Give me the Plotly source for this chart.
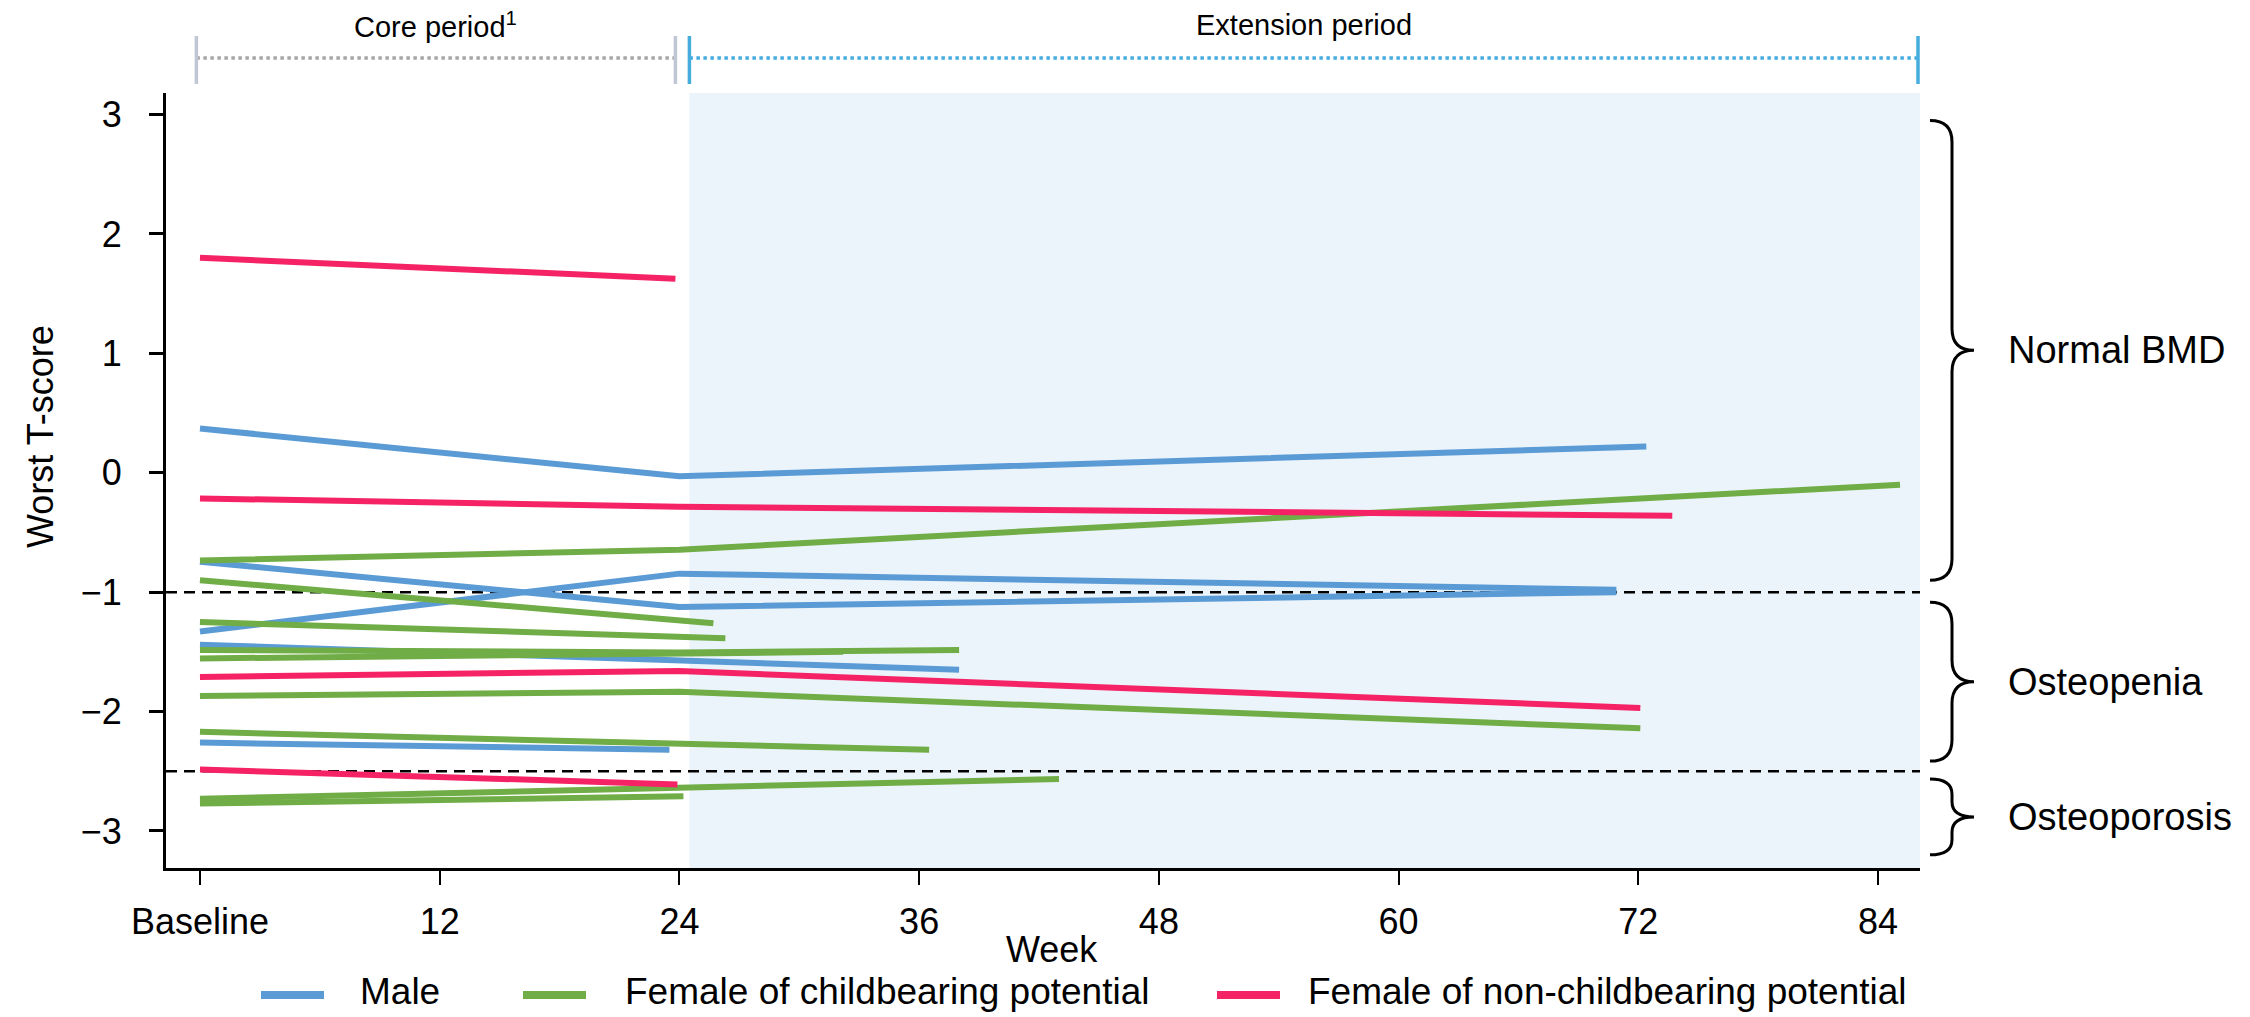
import plotly.graph_objects as go

# ---------------- data ----------------
week_ticks = [0, 12, 24, 36, 48, 60, 72, 84]
week_tick_labels = ["Baseline", "12", "24", "36", "48", "60", "72", "84"]
t_ticks = [-3, -2, -1, 0, 1, 2, 3]

series_names = ["Male", "Female of childbearing potential", "Female of non-childbearing potential"]
series_colors = ["#5B9BD5", "#70AD47", "#F52366"]

male_weeks = [[0, 24, 72.4], [0, 24, 70.9], [0, 24, 70.9], [0, 24, 38], [0, 23.5]]
male_scores = [[0.37, -0.03, 0.22], [-0.745, -1.125, -1.0], [-1.33, -0.845, -0.98],
               [-1.44, -1.58, -1.65], [-2.26, -2.32]]

fcbp_weeks = [[0, 24, 85.1], [0, 25.7], [0, 26.3], [0, 24, 38], [0, 32.2],
              [0, 24, 72.1], [0, 36.5], [0, 43], [0, 24.2]]
fcbp_scores = [[-0.735, -0.645, -0.10], [-0.90, -1.26], [-1.25, -1.385],
               [-1.485, -1.505, -1.485], [-1.555, -1.50], [-1.87, -1.835, -2.14],
               [-2.17, -2.32], [-2.73, -2.565], [-2.77, -2.71]]

fncbp_weeks = [[0, 23.8], [0, 24, 73.7], [0, 24, 72.1], [0, 23.9]]
fncbp_scores = [[1.80, 1.625], [-0.215, -0.285, -0.36], [-1.71, -1.66, -1.97],
                [-2.485, -2.61]]

thresholds = [-1, -2.5]
categories = ["Normal BMD", "Osteopenia", "Osteoporosis"]
category_spans = [(2.95, -0.9), (-1.085, -2.415), (-2.565, -3.2)]

periods = ["Core period<sup>1</sup>", "Extension period"]
period_spans = [(-0.18, 23.8), (24.5, 86.0)]

# ---------------- layout geometry ----------------
W, H = 2250, 1017
PL, PR, PT, PB = 166, 1920, 93, 868
x_range = [-1.7, 86.1]
y_range = [-3.31, 3.18]
FONT = "Liberation Sans, Arial, Helvetica, sans-serif"


def px_x(px):
    return (px - PL) / (PR - PL)


def px_y(py):
    return (PB - py) / (PB - PT)


fig = go.Figure()

groups = [(male_weeks, male_scores), (fcbp_weeks, fcbp_scores), (fncbp_weeks, fncbp_scores)]
for (wk_list, sc_list), name, color in zip(groups, series_names, series_colors):
    for wk, sc in zip(wk_list, sc_list):
        fig.add_trace(go.Scatter(x=wk, y=sc, mode="lines", name=name, legendgroup=name,
                                 showlegend=False, line=dict(color=color, width=6),
                                 hoverinfo="x+y+name"))

shapes = []
annotations = []

# shaded extension period
shapes.append(dict(type="rect", xref="x", yref="paper", x0=period_spans[1][0], x1=x_range[1],
                   y0=0, y1=1, fillcolor="#EBF4FB", line=dict(width=0), layer="below"))

# threshold dashed lines
for t in thresholds:
    shapes.append(dict(type="line", xref="paper", yref="y", x0=0, x1=1, y0=t, y1=t,
                       line=dict(color="black", width=2.5, dash="11px,7px"), layer="below"))

# period bars on top
bar_y = px_y(58)
cap_y0, cap_y1 = px_y(84), px_y(36)
period_line_colors = ["#A6A6A6", "#45ADDE"]
period_cap_colors = ["#BFC6D4", "#45ADDE"]
for (a, b), lc, cc in zip(period_spans, period_line_colors, period_cap_colors):
    shapes.append(dict(type="line", xref="x", yref="paper", x0=a, x1=b, y0=bar_y, y1=bar_y,
                       line=dict(color=lc, width=3.5, dash="dot")))
    for xv in (a, b):
        shapes.append(dict(type="line", xref="x", yref="paper", x0=xv, x1=xv, y0=cap_y0, y1=cap_y1,
                           line=dict(color=cc, width=3.5)))
for (a, b), txt in zip(period_spans, periods):
    annotations.append(dict(text=txt, xref="x", yref="paper", x=(a + b) / 2, y=px_y(25),
                            showarrow=False, xanchor="center", yanchor="middle",
                            font=dict(size=29, color="black", family=FONT)))

# braces on the right
xl, xs, xc = px_x(1930), px_x(1952), px_x(1974)
for (yt, yb), label in zip(category_spans, categories):
    ym = (yt + yb) / 2
    r = min(0.18, (yt - yb) / 5)
    path = (f"M{xl},{yt} Q{xs},{yt} {xs},{yt - r} L{xs},{ym + r} Q{xs},{ym} {xc},{ym} "
            f"Q{xs},{ym} {xs},{ym - r} L{xs},{yb + r} Q{xs},{yb} {xl},{yb}")
    shapes.append(dict(type="path", xref="paper", yref="y", path=path,
                       line=dict(color="black", width=3)))
    annotations.append(dict(text=label, xref="paper", yref="y", x=px_x(2006), y=ym,
                            showarrow=False, xanchor="left", yanchor="middle",
                            font=dict(size=38, color="black", family=FONT)))

# axis titles
annotations.append(dict(text="Worst T-score", xref="paper", yref="paper", x=px_x(40), y=px_y(436),
                        textangle=-90, showarrow=False, xanchor="center", yanchor="middle",
                        font=dict(size=36, color="black", family=FONT)))
annotations.append(dict(text="Week", xref="paper", yref="paper", x=px_x(1052), y=px_y(950),
                        showarrow=False, xanchor="center", yanchor="middle",
                        font=dict(size=36, color="black", family=FONT)))

# legend (drawn manually to match symbol length)
leg_sym_x = [261, 523, 1217]
leg_txt_x = [358, 623, 1306]
leg_sym_y = px_y(995)
leg_txt_y = px_y(992)
for name, color, sx, tx in zip(series_names, series_colors, leg_sym_x, leg_txt_x):
    shapes.append(dict(type="line", xref="paper", yref="paper", x0=px_x(sx), x1=px_x(sx + 63),
                       y0=leg_sym_y, y1=leg_sym_y, line=dict(color=color, width=8)))
    annotations.append(dict(text=name, xref="paper", yref="paper", x=px_x(tx), y=leg_txt_y,
                            showarrow=False, xanchor="left", yanchor="middle",
                            font=dict(size=37, color="black", family=FONT)))

fig.update_layout(
    width=W, height=H, autosize=False,
    margin=dict(l=PL, r=W - PR, t=PT, b=H - PB, pad=0),
    paper_bgcolor="white", plot_bgcolor="white",
    font=dict(family=FONT, size=36, color="black"),
    showlegend=False,
    shapes=shapes, annotations=annotations,
    xaxis=dict(range=x_range, tickvals=week_ticks, ticktext=week_tick_labels,
               showgrid=False, zeroline=False, showline=True, linecolor="black", linewidth=3,
               ticks="outside", ticklen=14, tickwidth=2, tickcolor="black",
               tickfont=dict(size=36, family=FONT), ticklabelstandoff=6),
    yaxis=dict(range=y_range, tickvals=t_ticks,
               showgrid=False, zeroline=False, showline=True, linecolor="black", linewidth=3,
               ticks="outside", ticklen=14, tickwidth=3, tickcolor="black",
               tickfont=dict(size=36, family=FONT), ticklabelstandoff=20),
)

fig.write_html("out.html", config={"displayModeBar": False},
               post_script="document.body.style.margin='0';document.body.style.overflow='hidden';")
